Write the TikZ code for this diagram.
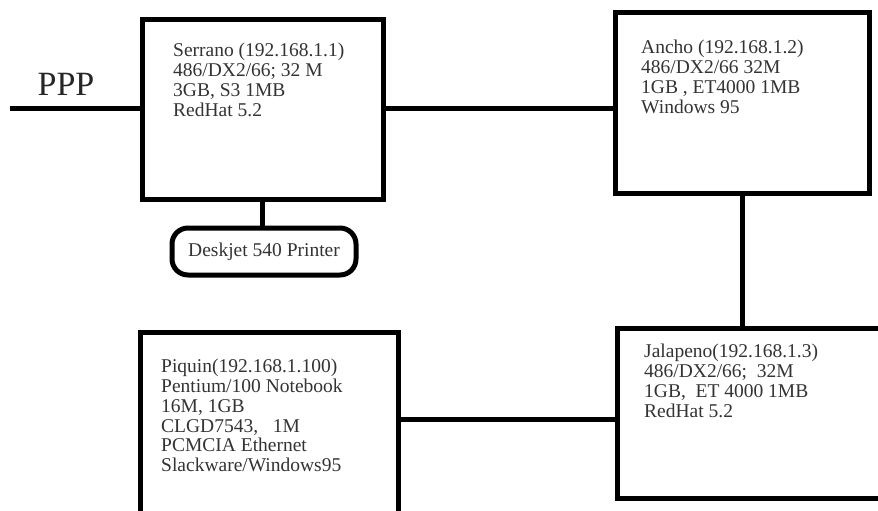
\documentclass[tikz,border=0pt]{standalone}
\usepackage{fontspec}
\setmainfont{Liberation Serif}
\usetikzlibrary{positioning}

\begin{document}
\begin{tikzpicture}[x=1pt, y=-1pt,
    host/.style={rectangle, draw, line width=5pt, outer sep=0pt, inner sep=0pt},
    printer/.style={rectangle, draw, line width=5pt, rounded corners=16pt, outer sep=0pt, text=black!80, font=\fontsize{19.5}{19.8}\selectfont},
    info/.style={anchor=north west, align=left, inner sep=0pt, text=black!80, font=\fontsize{19.5}{19.8}\selectfont},
    line/.style={draw, line width=5pt}]

    \useasboundingbox (0,0) rectangle (878,511);

    \node [host, minimum width=241pt, minimum height=179pt] (serrano) at (262.5,109.5) {};
    \node [host, minimum width=254pt, minimum height=180pt] (ancho) at (742,103) {};
    \node [host, minimum width=267pt, minimum height=170pt] (jalapeno) at (750.5,413) {};
    \node [host, minimum width=258pt, minimum height=182pt] (piquin) at (269,423) {};
    \node [printer, minimum width=184pt, minimum height=47pt] (deskjet) at (264,251.5) {Deskjet 540 Printer};

    \node [info, below right=23pt and 31pt of serrano.north west] (serranotxt)
        {Serrano (192.168.1.1)\\486/DX2/66; 32 M\\3GB, S3 1MB\\RedHat 5.2};
    \node [info, below right=27pt and 26pt of ancho.north west] (anchotxt)
        {Ancho (192.168.1.2)\\486/DX2/66 32M\\1GB , ET4000 1MB\\Windows 95};
    \node [info, below right=16pt and 27pt of jalapeno.north west] (jalapenotxt)
        {Jalapeno(192.168.1.3)\\486/DX2/66;~ 32M\\1GB,~ ET 4000 1MB\\RedHat 5.2};
    \node [info, below right=27pt and 21pt of piquin.north west] (piquintxt)
        {Piquin(192.168.1.100)\\Pentium/100 Notebook\\16M, 1GB\\CLGD7543,~~ 1M\\PCMCIA Ethernet\\Slackware/Windows95};

    \node [font=\fontsize{34}{40}\selectfont, text=black!85] (ppp) at (66,84) {PPP};
    \coordinate (uplink) at (10,108);

    \path [line] (uplink) -- (uplink -| serrano.west);
    \path [line] ([yshift=1.5pt]serrano.east) -- ([yshift=1.5pt]serrano.east -| ancho.west);
    \path [line] (serrano.south) -- (serrano.south |- deskjet.north);
    \path [line] (ancho.south) -- (ancho.south |- jalapeno.north);
    \path [line] ([yshift=4pt]piquin.east) -- ([yshift=4pt]piquin.east -| jalapeno.west);
\end{tikzpicture}
\end{document}
